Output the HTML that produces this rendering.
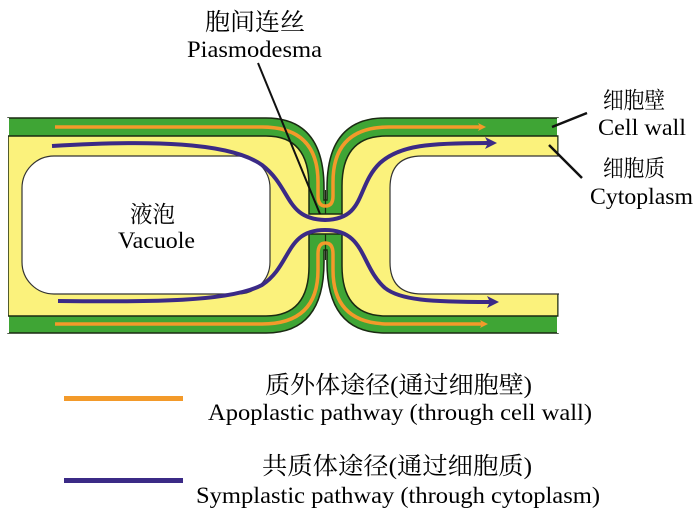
<!DOCTYPE html>
<html><head><meta charset="utf-8"><style>
html,body{margin:0;padding:0;background:#fff;}
svg{display:block;}
text{font-family:"Liberation Serif","Noto Serif CJK SC","Noto Sans CJK SC",serif;fill:#000;}
</style></head><body>
<svg width="700" height="515" viewBox="0 0 700 515" xmlns="http://www.w3.org/2000/svg">
<defs>
<marker id="ao" markerWidth="8" markerHeight="8" refX="2" refY="4" orient="auto" markerUnits="userSpaceOnUse"><path d="M0 0 L8 4 L0 8 L2 4 Z" fill="#f39a2a"/></marker>
<marker id="ap" markerWidth="12" markerHeight="12" refX="3" refY="6" orient="auto" markerUnits="userSpaceOnUse"><path d="M0 0 L12 6 L0 12 L3 6 Z" fill="#3b2a86"/></marker>
</defs>
<path d="M8 118 H266 Q324 118 324 188 V200 H327 V188 Q327 118 385 118 H558 V333 H385 Q327 333 327 262 V250 H324 V262 Q324 333 266 333 H8 Z" fill="#3fa535" stroke="#1a2a12" stroke-width="1.5"/>
<line x1="8" y1="118" x2="8" y2="333" stroke="#fff" stroke-width="2"/>
<line x1="558" y1="118" x2="558" y2="333" stroke="#fff" stroke-width="2"/>
<line x1="325.5" y1="190" x2="325.5" y2="260" stroke="#1a2a12" stroke-width="1.2"/>
<path d="M8 136 H266 Q309 136 309 186 V214 H342 V186 Q342 136 386 136 H558 V316 H386 Q342 316 342 266 V234 H309 V266 Q309 316 266 316 H8 Z" fill="#fbf27c" stroke="#1a2a12" stroke-width="1.5"/>
<rect x="0" y="130" width="8" height="195" fill="#fff"/>
<rect x="558.5" y="130" width="12" height="195" fill="#fff"/>
<rect x="22" y="156" width="248" height="138" rx="32" fill="#fff" stroke="#333" stroke-width="1.2"/>
<path d="M559 156 H422 Q390 156 390 188 V262 Q390 294 422 294 H559" fill="#fff" stroke="#333" stroke-width="1.2"/>
<path d="M55 127 H262 Q318 127 318 182 V196 Q318 206 325.5 206 Q333 206 333 196 V182 Q333 127 389 127 H480" fill="none" stroke="#f39a2a" stroke-width="3.5" marker-end="url(#ao)"/>
<path d="M55 324 H262 Q318 324 318 270 V254 Q318 243 325.5 243 Q333 243 333 254 V270 Q333 324 389 324 H482" fill="none" stroke="#f39a2a" stroke-width="3.5" marker-end="url(#ao)"/>
<path d="M52 146 C150 140 230 142 262 165 C292 188 285 219 325 220 C366 219 356 186 380 163 C400 145 430 143 488 143" fill="none" stroke="#3b2a86" stroke-width="4" marker-end="url(#ap)"/>
<path d="M58 301 C150 302 230 302 262 285 C292 265 285 230 325 230 C366 230 360 266 385 288 C400 300 430 302 490 302" fill="none" stroke="#3b2a86" stroke-width="4" marker-end="url(#ap)"/>
<line x1="258" y1="63" x2="320" y2="214" stroke="#111" stroke-width="2"/>
<line x1="587" y1="113" x2="552" y2="127" stroke="#111" stroke-width="2.5"/>
<line x1="549" y1="145" x2="582" y2="178" stroke="#111" stroke-width="2.5"/>
<text x="205" y="30" font-size="24" textLength="100" lengthAdjust="spacingAndGlyphs">胞间连丝</text>
<text x="187" y="57" font-size="23" textLength="135" lengthAdjust="spacingAndGlyphs">Piasmodesma</text>
<text x="603" y="108" font-size="23" textLength="62" lengthAdjust="spacingAndGlyphs">细胞壁</text>
<text x="598" y="135" font-size="23" textLength="88" lengthAdjust="spacingAndGlyphs">Cell wall</text>
<text x="603" y="176" font-size="23" textLength="62" lengthAdjust="spacingAndGlyphs">细胞质</text>
<text x="590" y="204" font-size="23" textLength="103" lengthAdjust="spacingAndGlyphs">Cytoplasm</text>
<text x="130" y="222" font-size="23" textLength="45" lengthAdjust="spacingAndGlyphs">液泡</text>
<text x="118" y="248" font-size="23" textLength="77" lengthAdjust="spacingAndGlyphs">Vacuole</text>
<rect x="64" y="396" width="119" height="5" fill="#f39a2a"/>
<rect x="64" y="478" width="119" height="5" fill="#3b2a86"/>
<text x="265" y="393" font-size="24" textLength="267" lengthAdjust="spacingAndGlyphs">质外体途径(通过细胞壁)</text>
<text x="208" y="420" font-size="23" textLength="384" lengthAdjust="spacingAndGlyphs">Apoplastic pathway (through cell wall)</text>
<text x="262" y="474" font-size="24" textLength="270" lengthAdjust="spacingAndGlyphs">共质体途径(通过细胞质)</text>
<text x="196" y="503" font-size="23" textLength="404" lengthAdjust="spacingAndGlyphs">Symplastic pathway (through cytoplasm)</text>
</svg>
</body></html>
